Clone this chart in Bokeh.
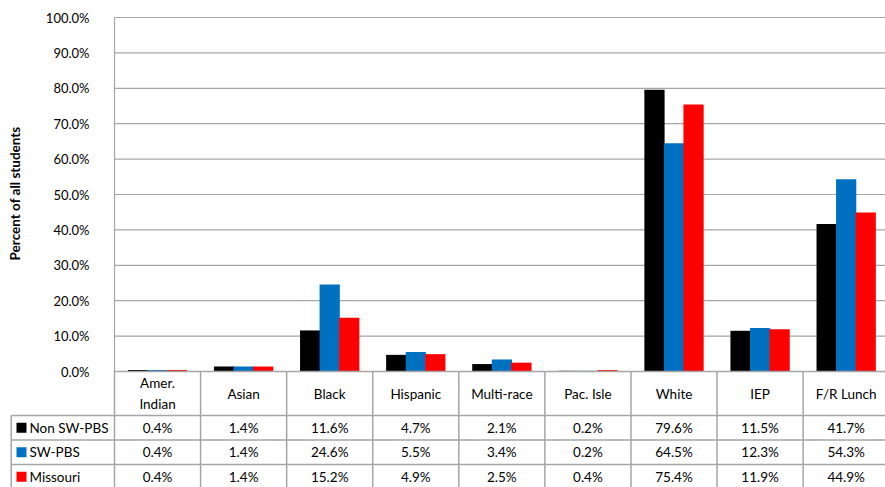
import math
from bokeh.plotting import figure
from bokeh.models import Range1d, ColumnDataSource
from bokeh.core.properties import value
from bokeh.embed import file_html
from bokeh.resources import INLINE

categories = ["Amer.\nIndian", "Asian", "Black", "Hispanic", "Multi-race", "Pac. Isle", "White", "IEP", "F/R Lunch"]
series_names = ["Non SW-PBS", "SW-PBS", "Missouri"]
non_swpbs = [0.4, 1.4, 11.6, 4.7, 2.1, 0.2, 79.6, 11.5, 41.7]
swpbs = [0.4, 1.4, 24.6, 5.5, 3.4, 0.2, 64.5, 12.3, 54.3]
missouri = [0.4, 1.4, 15.2, 4.9, 2.5, 0.4, 75.4, 11.9, 44.9]
y_ticks = [0, 10, 20, 30, 40, 50, 60, 70, 80, 90, 100]
y_title = "Percent of all students"
colors = ["#000000", "#0070C0", "#FF0000"]

FONT = value("Lato")
GRID = "#a6a6a6"
n = len(categories)
series = [non_swpbs, swpbs, missouri]
offsets = [-0.227, 0.0, 0.227]

W, H = 885, 487
px_per_pct = 3.54
zero_px = 371
y0 = -(H - zero_px) / px_per_pct
y1 = zero_px / px_per_pct
unit = 86.08
left_px = 114

p = figure(width=W, height=H, x_range=Range1d(-left_px / unit, (W - left_px) / unit),
           y_range=Range1d(y0, y1),
           output_backend="svg", toolbar_location=None,
           x_axis_location=None, y_axis_location=None,
           min_border_left=0, min_border_right=0, min_border_top=0, min_border_bottom=0)
p.extra_y_ranges = {"table": Range1d(H, 0)}
p.outline_line_color = None
p.xgrid.grid_line_color = None
p.ygrid.grid_line_color = None

# ---------------- value axis (drawn from tick list) ----------------
p.segment(x0=[0] * len(y_ticks), y0=y_ticks, x1=[n] * len(y_ticks), y1=y_ticks,
          line_color=GRID, line_width=1.2)
p.segment(x0=[0], y0=[0], x1=[0], y1=[max(y_ticks)], line_color=GRID, line_width=1.2)
p.text(x=[0] * len(y_ticks), y=y_ticks, text=[f"{v:.1f}%" for v in y_ticks],
       x_offset=-25, text_align="right", text_baseline="middle",
       text_font=FONT, text_font_size="13px", text_color="#000000")
p.text(x=[-100 / unit], y=[50.3], text=[y_title], angle=math.pi / 2,
       text_align="center", text_baseline="middle", text_font=FONT,
       text_font_size="13.5px", text_font_style="bold", text_color="#000000")

# ---------------- bars ----------------
for vals, off, col in zip(series, offsets, colors):
    src = ColumnDataSource(dict(x=[i + 0.5 + off for i in range(n)], top=vals))
    p.vbar(x="x", top="top", bottom=0, width=0.235, source=src, fill_color=col, line_color=None)

# ---------------- data table ----------------
tbl_top = zero_px
header_h = 44
row_h = 24.5
legend_x = -103.3 / unit
row_tops = [tbl_top + header_h + k * row_h for k in range(len(series))]

x0s, y0s, x1s, y1s = [0], [tbl_top], [n], [tbl_top]
for yt in row_tops:
    x0s.append(legend_x); y0s.append(yt); x1s.append(n); y1s.append(yt)
for i in range(1, n + 1):
    x0s.append(i); y0s.append(tbl_top); x1s.append(i); y1s.append(H)
x0s.append(0); y0s.append(tbl_top); x1s.append(0); y1s.append(H)
x0s.append(legend_x); y0s.append(row_tops[0]); x1s.append(legend_x); y1s.append(H)
p.segment(x0=x0s, y0=y0s, x1=x1s, y1=y1s, line_color=GRID, line_width=1.5, y_range_name="table")

p.text(x=[i + 0.5 for i in range(n)], y=[tbl_top + header_h / 2] * n, text=categories,
       text_font=FONT, text_font_size="13.5px", text_align="center", text_baseline="middle",
       text_color="#000000", text_line_height=1.3, y_range_name="table")

ycent = [yt + row_h / 2 for yt in row_tops]
p.scatter(x=[-93 / unit] * 3, y=ycent, marker="square", size=10, fill_color=colors,
          line_color=None, y_range_name="table")
p.text(x=[-85 / unit] * 3, y=ycent, text=series_names, text_font=FONT, text_font_size="13.5px",
       text_align="left", text_baseline="middle", text_color="#000000", y_range_name="table")

for vals, yc in zip(series, ycent):
    p.text(x=[i + 0.5 for i in range(n)], y=[yc] * n, text=[f"{v:.1f}%" for v in vals],
           text_font=FONT, text_font_size="13.5px", text_align="center", text_baseline="middle",
           text_color="#000000", y_range_name="table")

open("out.html", "w").write(file_html(p, INLINE))
